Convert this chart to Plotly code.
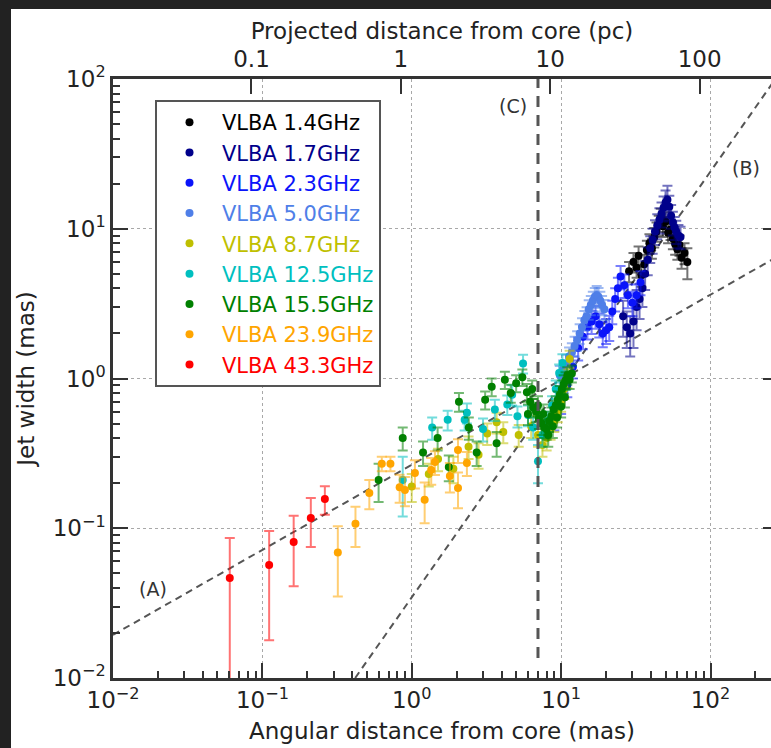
import plotly.graph_objects as go

# ---------------- data ----------------
x_14 = [28.5, 30.5, 32.0, 33.0, 34.5, 36.0, 37.5, 39.0, 40.5, 42.0, 43.5, 45.0, 46.5, 48.0, 50.0, 52.0, 54.0, 56.0, 58.0, 60.0, 62.0, 64.0, 67.0, 70.0]
y_14 = [5.2, 6.0, 5.5, 6.6, 4.9, 5.8, 7.2, 8.0, 7.4, 8.8, 9.6, 10.6, 11.8, 10.4, 11.2, 9.4, 9.9, 8.6, 7.9, 7.3, 7.8, 6.4, 6.9, 6.0]
e_14 = [0.8, 0.9, 0.8, 1.0, 0.8, 0.9, 1.1, 1.2, 1.1, 1.3, 1.4, 1.6, 1.8, 1.6, 1.7, 1.4, 1.5, 1.3, 1.2, 1.1, 1.2, 1.0, 1.1, 1.4]

x_17 = [26.0, 27.5, 29.0, 30.5, 32.0, 33.5, 35.0, 36.5, 38.0, 39.5, 41.0, 42.5, 44.0, 45.5, 47.0, 48.5, 50.0, 51.5, 53.0, 54.5, 56.0, 57.5, 59.0, 61.0, 63.0]
y_17 = [2.6, 2.2, 2.0, 2.4, 3.0, 3.4, 4.0, 5.0, 6.2, 7.4, 8.4, 9.6, 10.5, 11.5, 12.6, 13.8, 15.0, 15.6, 14.0, 12.2, 11.0, 10.2, 9.6, 9.0, 8.8]
e_17 = [0.7, 0.6, 0.6, 0.8, 0.9, 0.9, 1.0, 1.1, 1.3, 1.5, 1.6, 1.8, 2.0, 2.2, 2.4, 2.6, 3.0, 3.8, 2.6, 2.2, 2.0, 1.8, 1.7, 1.6, 1.5]

x_23 = [9.0, 10.0, 11.0, 12.0, 13.0, 14.0, 15.0, 16.0, 17.0, 18.0, 19.0, 20.0, 21.0, 22.0, 23.0, 24.0, 25.0, 26.5, 28.0, 30.0, 32.0, 34.0]
y_23 = [0.55, 0.7, 0.9, 1.2, 1.6, 1.9, 2.2, 2.4, 2.6, 2.3, 2.0, 2.1, 2.2, 2.8, 3.4, 4.0, 4.8, 4.2, 3.6, 3.2, 3.6, 4.4]
e_23 = [0.1, 0.12, 0.15, 0.2, 0.28, 0.33, 0.38, 0.42, 0.45, 0.42, 0.38, 0.4, 0.42, 0.5, 0.6, 0.7, 0.85, 0.75, 0.65, 0.6, 0.65, 0.8]

x_50 = [9.8, 10.3, 10.8, 11.3, 11.8, 12.3, 12.8, 13.3, 13.8, 14.3, 14.8, 15.3, 15.8, 16.3, 16.8, 17.3, 17.8, 18.3, 18.8, 19.5]
y_50 = [1.05, 1.15, 1.25, 1.4, 1.5, 1.65, 1.8, 2.0, 2.2, 2.45, 2.6, 2.9, 3.1, 3.3, 3.5, 3.6, 3.5, 3.3, 3.1, 2.9]
e_50 = [0.16, 0.17, 0.19, 0.21, 0.22, 0.25, 0.27, 0.3, 0.33, 0.37, 0.39, 0.43, 0.46, 0.5, 0.52, 0.54, 0.52, 0.5, 0.46, 0.44]

x_87 = [1.0, 1.3, 1.5, 1.9, 2.4, 2.8, 3.2, 3.7, 4.1, 5.2, 6.3, 7.0, 7.5, 8.0, 8.5, 9.0, 9.5, 10.0, 10.5, 11.0, 11.4]
y_87 = [0.19, 0.23, 0.29, 0.25, 0.35, 0.31, 0.43, 0.51, 0.44, 0.42, 0.48, 0.42, 0.36, 0.40, 0.46, 0.52, 0.6, 0.7, 0.85, 1.0, 1.35]
e_87 = [0.04, 0.04, 0.05, 0.05, 0.06, 0.06, 0.07, 0.08, 0.07, 0.07, 0.08, 0.07, 0.06, 0.07, 0.07, 0.08, 0.09, 0.1, 0.12, 0.14, 0.18]

x_125 = [0.87, 1.37, 1.74, 2.26, 2.34, 3.0, 3.6, 4.36, 4.7, 5.1, 5.56, 6.0, 6.5, 7.0, 7.5, 8.1, 8.7, 9.2, 9.7, 10.2, 10.8]
y_125 = [0.21, 0.47, 0.53, 0.53, 0.59, 0.46, 0.62, 0.67, 0.78, 0.56, 1.26, 0.57, 0.47, 0.28, 0.42, 0.52, 0.66, 0.85, 1.09, 1.27, 0.98]
e_125 = [0.09, 0.08, 0.08, 0.08, 0.09, 0.08, 0.1, 0.1, 0.12, 0.09, 0.18, 0.09, 0.08, 0.08, 0.07, 0.08, 0.1, 0.12, 0.15, 0.18, 0.14]

x_155 = [0.6, 0.87, 1.19, 1.49, 1.77, 2.07, 2.41, 2.72, 3.1, 3.43, 3.7, 4.2, 4.6, 5.0, 5.5, 5.9, 6.0, 6.2, 6.4, 6.5, 6.8, 7.0, 7.1, 7.4, 7.6, 7.7, 8.0, 8.2, 8.3, 8.6, 8.8, 8.9, 9.2, 9.4, 9.5, 9.8, 10.0, 10.1, 10.4, 10.6, 10.7, 11.0, 11.4, 11.8]
y_155 = [0.21, 0.40, 0.32, 0.40, 0.256, 0.70, 0.47, 0.32, 0.72, 0.88, 0.37, 0.98, 0.80, 0.93, 1.02, 0.81, 0.58, 0.70, 0.85, 0.64, 0.60, 0.66, 0.54, 0.50, 0.58, 0.47, 0.46, 0.42, 0.52, 0.56, 0.48, 0.62, 0.66, 0.55, 0.72, 0.78, 0.65, 0.85, 0.92, 0.75, 0.97, 1.05, 0.98, 1.08]
e_155 = [0.06, 0.07, 0.06, 0.07, 0.05, 0.1, 0.08, 0.06, 0.1, 0.12, 0.07, 0.13, 0.11, 0.12, 0.13, 0.11, 0.09, 0.1, 0.12, 0.09, 0.09, 0.1, 0.08, 0.08, 0.09, 0.07, 0.07, 0.07, 0.08, 0.08, 0.08, 0.09, 0.1, 0.08, 0.1, 0.11, 0.1, 0.12, 0.13, 0.11, 0.13, 0.14, 0.13, 0.14]

x_239 = [0.32, 0.42, 0.52, 0.63, 0.72, 0.83, 0.90, 1.05, 1.22, 1.35, 1.43, 1.80, 2.04, 2.04, 2.34]
y_239 = [0.069, 0.107, 0.172, 0.27, 0.27, 0.188, 0.18, 0.234, 0.155, 0.245, 0.277, 0.223, 0.333, 0.186, 0.273]
e_239 = [0.034, 0.032, 0.038, 0.03, 0.03, 0.04, 0.04, 0.05, 0.047, 0.05, 0.05, 0.05, 0.06, 0.05, 0.05]

x_433 = [0.0605, 0.111, 0.162, 0.211, 0.262]
y_433 = [0.0466, 0.0569, 0.081, 0.117, 0.157]
e_433 = [0.0394, 0.039, 0.040, 0.042, 0.034]

names = ["VLBA 1.4GHz", "VLBA 1.7GHz", "VLBA 2.3GHz", "VLBA 5.0GHz", "VLBA 8.7GHz",
         "VLBA 12.5GHz", "VLBA 15.5GHz", "VLBA 23.9GHz", "VLBA 43.3GHz"]
colors = ["#000000", "#00008B", "#0A14FA", "#4F7FE8", "#BFBF00",
          "#00BFBF", "#008000", "#FFA500", "#FF0000"]
xs_all = [x_14, x_17, x_23, x_50, x_87, x_125, x_155, x_239, x_433]
ys_all = [y_14, y_17, y_23, y_50, y_87, y_125, y_155, y_239, y_433]
es_all = [e_14, e_17, e_23, e_50, e_87, e_125, e_155, e_239, e_433]

# fitted lines (end points) and the boundary (C)
lineA_x = [0.01, 300.0]
lineA_y = [0.0194, 6.77]
lineB_x = [0.418, 300.0]
lineB_y = [0.01, 115.0]
lineC_x = [7.0, 7.0]
lineC_y = [0.0136, 100.0]

x_ticks = [0.01, 0.1, 1, 10, 100]
x_ticktext = ["10<sup>\u22122</sup>", "10<sup>\u22121</sup>", "10<sup>0</sup>", "10<sup>1</sup>", "10<sup>2</sup>"]
y_ticks = [0.01, 0.1, 1, 10, 100]
y_ticktext = ["10<sup>\u22122</sup>", "10<sup>\u22121</sup>", "10<sup>0</sup>", "10<sup>1</sup>", "10<sup>2</sup>"]
pc_ticks = [0.1, 1, 10, 100]
pc_ticktext = ["0.1", "1", "10", "100"]

# ---------------- figure ----------------
FONT = "DejaVu Sans"
TXT = "#222222"
AX = "#333333"
W, H = 771, 748
ML, MR, MT, MB = 113, 0, 79, 70


def rgba(hexc, a):
    h = hexc.lstrip("#")
    r, g, b = int(h[0:2], 16), int(h[2:4], 16), int(h[4:6], 16)
    return f"rgba({r},{g},{b},{a})"


def minor_vals(lo, hi):
    out = []
    for d in range(lo, hi + 1):
        for k in range(2, 10):
            out.append(k * 10.0 ** d)
    return out


fig = go.Figure()

dash_style = dict(color="#555555", width=2, dash="7px,5px")
fig.add_trace(go.Scatter(x=lineA_x, y=lineA_y, mode="lines", line=dash_style,
                         showlegend=False, hoverinfo="skip"))
fig.add_trace(go.Scatter(x=lineB_x, y=lineB_y, mode="lines", line=dash_style,
                         showlegend=False, hoverinfo="skip"))
fig.add_trace(go.Scatter(x=lineC_x, y=lineC_y, mode="lines", yaxis="y2",
                         line=dict(color="#555555", width=3, dash="11px,8px"),
                         showlegend=False, hoverinfo="skip"))
# empty trace so that the top (pc) axis is drawn
fig.add_trace(go.Scatter(x=[None], y=[None], xaxis="x2", mode="markers",
                         showlegend=False, hoverinfo="skip"))

for i, (nm, col, xs, ys, es) in enumerate(zip(names, colors, xs_all, ys_all, es_all)):
    fig.add_trace(go.Scatter(
        x=xs, y=ys, mode="markers",
        name=f"<span style='color:{col}'>{nm}</span>",
        legendgroup=f"g{i}",
        marker=dict(color=col, size=8),
        error_y=dict(type="data", array=es, color=rgba(col, 0.55), thickness=2, width=5),
    ))

common_axis = dict(
    type="log", showline=True, linecolor=AX, linewidth=2.5,
    ticks="inside", ticklen=15, tickwidth=2, tickcolor=AX,
    tickfont=dict(family=FONT, size=23, color=TXT),
    zeroline=False, tickmode="array",
)

fig.update_layout(
    width=W, height=H, autosize=False,
    margin=dict(l=ML, r=MR, t=MT, b=MB, pad=0),
    paper_bgcolor="white", plot_bgcolor="white",
    font=dict(family=FONT, size=20, color=TXT),
    xaxis=dict(
        **common_axis, range=[-2, 2.405],
        tickvals=x_ticks, ticktext=x_ticktext,
        minor=dict(tickvals=minor_vals(-2, 2), ticks="inside", ticklen=7,
                   tickwidth=1.5, tickcolor=AX, showgrid=False),
        showgrid=True, gridcolor="#a8a8a8", griddash="dot", gridwidth=1,
        title=dict(text="Angular distance from core (mas)",
                   font=dict(family=FONT, size=23, color=TXT), standoff=11),
    ),
    xaxis2=dict(
        **common_axis, range=[-1.927, 2.478], overlaying="x", side="top", anchor="y",
        tickvals=pc_ticks, ticktext=pc_ticktext, showgrid=False,
        title=dict(text="Projected distance from core (pc)",
                   font=dict(family=FONT, size=23, color=TXT), standoff=0),
    ),
    yaxis=dict(
        **common_axis, range=[-2, 2],
        tickvals=y_ticks, ticktext=y_ticktext,
        minor=dict(tickvals=minor_vals(-2, 1), ticks="inside", ticklen=7,
                   tickwidth=1.5, tickcolor=AX, showgrid=False),
        showgrid=True, gridcolor="#a8a8a8", griddash="dot", gridwidth=1,
        title=dict(text="Jet width (mas)",
                   font=dict(family=FONT, size=23, color=TXT), standoff=12),
    ),
    yaxis2=dict(
        type="log", range=[-2, 2], overlaying="y", side="right", anchor="x",
        showline=False, showgrid=False, zeroline=False, showticklabels=False,
        ticks="inside", ticklen=8, tickwidth=2, tickcolor=AX,
        tickmode="array", tickvals=y_ticks,
    ),
    legend=dict(
        x=(155 - ML) / (W - ML - MR), y=(678 - 100) / (H - MT - MB),
        xanchor="left", yanchor="top",
        bgcolor="white", bordercolor="#555555", borderwidth=2,
        font=dict(family=FONT, size=21, color=TXT),
        itemwidth=55, tracegroupgap=2, traceorder="normal",
    ),
    showlegend=True,
)

ann_font = dict(family=FONT, size=19, color="#333333")
fig.add_annotation(x=-1.734, y=-1.406, xref="x", yref="y", text="(A)", showarrow=False, font=ann_font)
fig.add_annotation(x=2.237, y=1.406, xref="x", yref="y", text="(B)", showarrow=False, font=ann_font)
fig.add_annotation(x=0.677, y=1.820, xref="x", yref="y", text="(C)", showarrow=False, font=ann_font)

# dark frame bands at the top and left of the screenshot
pw, ph = W - ML - MR, H - MT - MB
fig.add_shape(type="rect", xref="paper", yref="paper",
              x0=-0.3, x1=(11 - ML) / pw, y0=-0.3, y1=1.3,
              fillcolor="#222222", line=dict(width=0), layer="above")
fig.add_shape(type="rect", xref="paper", yref="paper",
              x0=-0.3, x1=1.3, y0=(H - MB - 9) / ph, y1=1.3,
              fillcolor="#222222", line=dict(width=0), layer="above")

fig.write_html(
    "out.html",
    config={"displayModeBar": False},
    post_script="document.body.style.margin='0px';document.body.style.overflow='hidden';",
)
